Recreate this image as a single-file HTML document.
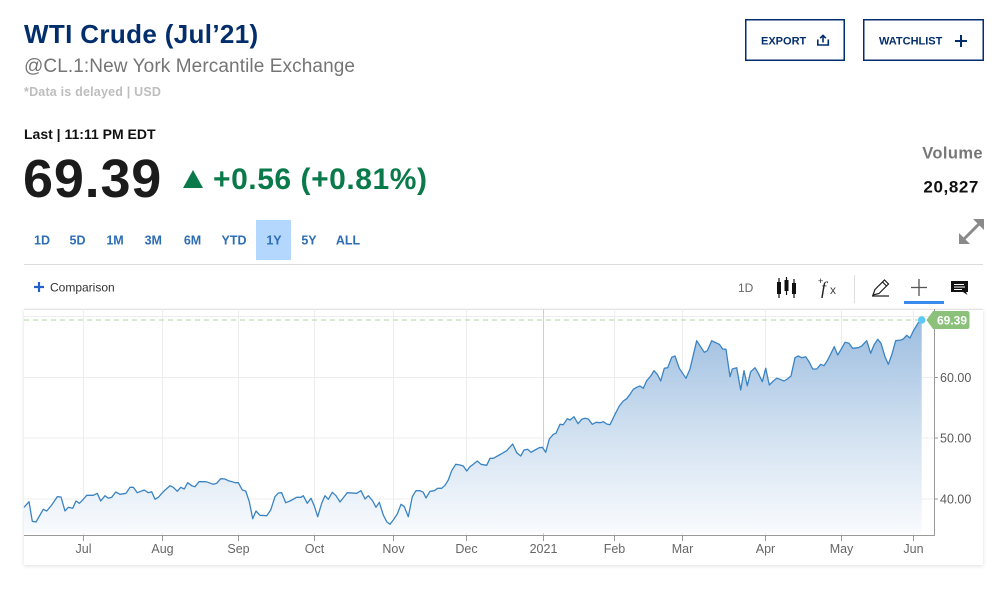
<!DOCTYPE html>
<html>
<head>
<meta charset="utf-8">
<style>
  html,body{margin:0;padding:0;background:#fff;}
  body{width:996px;height:594px;overflow:hidden;position:relative;font-family:"Liberation Sans",Arial,sans-serif;}
  svg{position:absolute;left:0;top:0;}
  .card{position:absolute;left:24px;top:309px;width:959px;height:256px;background:#fff;box-shadow:0 1px 4px rgba(0,0,0,0.13);}
</style>
</head>
<body>
<div class="card"></div>
<svg width="996" height="594" viewBox="0 0 996 594" xmlns="http://www.w3.org/2000/svg" font-family="Liberation Sans, Arial, sans-serif">
  <defs>
    <linearGradient id="fg" gradientUnits="userSpaceOnUse" x1="0" y1="320" x2="0" y2="533">
      <stop offset="0" stop-color="#9cbde0"/>
      <stop offset="0.55" stop-color="#d3e2f1"/>
      <stop offset="1" stop-color="#f9fbfe"/>
    </linearGradient>
  </defs>

  <!-- Header -->
  <text x="24" y="43" font-size="26" font-weight="bold" fill="#032e6c" letter-spacing="0.35">WTI Crude (Jul’21)</text>
  <text x="24" y="72" font-size="19" fill="#757575" letter-spacing="0.1">@CL.1:New York Mercantile Exchange</text>
  <text x="24" y="96" font-size="12.5" font-weight="bold" fill="#bdbdbd" letter-spacing="0.2">*Data is delayed | USD</text>
  <text x="24" y="139" font-size="14" font-weight="bold" fill="#111">Last | 11:11 PM EDT</text>
  <text x="23" y="197" font-size="54" font-weight="bold" fill="#1b1b1b" letter-spacing="0.8">69.39</text>
  <polygon points="183,188 203,188 193,170" fill="#0a7a4b"/>
  <text x="213" y="189" font-size="30" font-weight="bold" fill="#0a7a4b" letter-spacing="0.55">+0.56 (+0.81%)</text>

  <!-- Buttons -->
  <rect x="745.75" y="19.75" width="98.5" height="40.5" fill="none" stroke="#032e6c" stroke-width="1.5"/>
  <text x="761" y="44.3" font-size="11" font-weight="bold" fill="#032e6c">EXPORT</text>
  <g fill="none" stroke="#032e6c" stroke-width="1.6">
    <path d="M817.8,39.5 V45 H828.3 V39.5"/>
    <path d="M823,42.5 V35.5"/>
    <path d="M820.2,38.2 L823,35.4 L825.8,38.2"/>
  </g>
  <rect x="863.75" y="19.75" width="119.5" height="40.5" fill="none" stroke="#032e6c" stroke-width="1.5"/>
  <text x="879" y="44.3" font-size="11" font-weight="bold" fill="#032e6c">WATCHLIST</text>
  <g stroke="#032e6c" stroke-width="2">
    <line x1="955" y1="41" x2="967" y2="41"/>
    <line x1="961" y1="35" x2="961" y2="47"/>
  </g>

  <!-- Volume -->
  <text x="983" y="158.5" font-size="16.5" font-weight="bold" fill="#777" text-anchor="end" letter-spacing="0.4">Volume</text>
  <text x="979" y="192.5" font-size="17" font-weight="bold" fill="#111" text-anchor="end" letter-spacing="0.6">20,827</text>

  <!-- Expand icon -->
  <g fill="#8a8a8a" stroke="#8a8a8a">
    <line x1="964" y1="239" x2="979" y2="224" stroke-width="3"/>
    <polygon points="984,219 984,230 973,219" stroke="none"/>
    <polygon points="959,244 959,233 970,244" stroke="none"/>
  </g>

  <!-- Range buttons -->
  <rect x="256" y="220" width="35" height="40" fill="#b4d7fd"/>
  <g font-size="12.5" font-weight="bold" fill="#2d6db5" text-anchor="middle">
    <text x="42" y="244.5">1D</text>
    <text x="77.5" y="244.5">5D</text>
    <text x="115" y="244.5">1M</text>
    <text x="153.3" y="244.5">3M</text>
    <text x="192.5" y="244.5">6M</text>
    <text x="234" y="244.5">YTD</text>
    <text x="274" y="244.5">1Y</text>
    <text x="309" y="244.5">5Y</text>
    <text x="348" y="244.5">ALL</text>
  </g>
  <line x1="24" y1="264.5" x2="983" y2="264.5" stroke="#dcdcdc" stroke-width="1"/>

  <!-- Toolbar -->
  <g stroke="#2360c8" stroke-width="2.2">
    <line x1="34" y1="287" x2="44" y2="287"/>
    <line x1="39" y1="282" x2="39" y2="292"/>
  </g>
  <text x="50" y="291.3" font-size="12" fill="#333">Comparison</text>
  <text x="738" y="292" font-size="12" fill="#666">1D</text>
  <!-- candles -->
  <g fill="#111" stroke="#111" stroke-width="1.2">
    <line x1="779" y1="278" x2="779" y2="298"/>
    <rect x="777" y="282" width="4" height="12" stroke="none"/>
    <line x1="786.5" y1="277" x2="786.5" y2="295"/>
    <rect x="784.5" y="280" width="4" height="11" stroke="none"/>
    <line x1="794" y1="279" x2="794" y2="298"/>
    <rect x="792" y="283" width="4" height="11" stroke="none"/>
  </g>
  <!-- fx -->
  <text x="818" y="284" font-size="9" fill="#222">+</text>
  <text x="821" y="294" font-size="18" font-style="italic" font-family="Liberation Serif, serif" fill="#222">f</text>
  <text x="830" y="294" font-size="12" fill="#444">x</text>
  <line x1="854.5" y1="275" x2="854.5" y2="303" stroke="#ddd" stroke-width="1"/>
  <!-- pencil -->
  <g fill="none" stroke="#222" stroke-width="1.2">
    <path d="M873,295 L875,289.5 L884.5,280 L888.5,284 L879,293.5 Z"/>
    <line x1="882.5" y1="282" x2="886.5" y2="286"/>
    <line x1="872" y1="296" x2="889" y2="296"/>
  </g>
  <!-- crosshair -->
  <g stroke="#555" stroke-width="1.3">
    <line x1="911" y1="287.5" x2="927" y2="287.5"/>
    <line x1="919" y1="279" x2="919" y2="296"/>
  </g>
  <rect x="904" y="301" width="40" height="3" fill="#3a8aec"/>
  <!-- comment -->
  <path d="M951,281 H968 V292 H966 L967.5,295 L963,292 H951 Z" fill="#111"/>
  <g stroke="#fff" stroke-width="1">
    <line x1="954" y1="284.5" x2="964" y2="284.5"/>
    <line x1="954" y1="287" x2="965" y2="287"/>
    <line x1="954" y1="289.5" x2="962" y2="289.5"/>
  </g>

  <!-- Chart grid -->
  <line x1="24" y1="309.5" x2="983" y2="309.5" stroke="#e2e2e2"/>
  <g stroke="#ededed" stroke-width="1">
    <line x1="24" y1="316.5" x2="934" y2="316.5"/>
    <line x1="24" y1="377.5" x2="934" y2="377.5"/>
    <line x1="24" y1="438" x2="934" y2="438"/>
    <line x1="24" y1="499" x2="934" y2="499"/>
    <line x1="83.5" y1="309" x2="83.5" y2="535"/>
    <line x1="162.5" y1="309" x2="162.5" y2="535"/>
    <line x1="238.5" y1="309" x2="238.5" y2="535"/>
    <line x1="314.5" y1="309" x2="314.5" y2="535"/>
    <line x1="393.5" y1="309" x2="393.5" y2="535"/>
    <line x1="466.5" y1="309" x2="466.5" y2="535"/>
    <line x1="614.5" y1="309" x2="614.5" y2="535"/>
    <line x1="682.5" y1="309" x2="682.5" y2="535"/>
    <line x1="765.5" y1="309" x2="765.5" y2="535"/>
    <line x1="841.5" y1="309" x2="841.5" y2="535"/>
    <line x1="913.5" y1="309" x2="913.5" y2="535"/>
  </g>
  <line x1="543.5" y1="309" x2="543.5" y2="535" stroke="#cfcfcf"/>

  <!-- Area + line -->
  <path fill="url(#fg)" d="M24,507.3 L29,501.7 32.3,521.3 36,522 40,515 43.3,509.3 46.7,511 51.7,505 57.3,496.7 61,497 65,511 68.3,507.3 72.7,508.3 76,501 79.3,503.3 82.7,500 86.7,495.3 93.3,495.3 97.3,493.3 100.7,501 105,495.7 108.3,498.3 111.7,497.3 115.7,492 120,494.3 126,493.3 130,487.3 133.3,487.3 137.3,492.7 144.3,490 148.3,492.7 151.7,491.7 155,499.3 158.3,497.3 164.3,490.7 170,485.7 173.3,487.3 177.3,491.3 180.7,487.3 184.3,489 187.7,482.7 191.7,485.7 195,486.7 199,481.7 206,481.7 213.3,484.3 216.7,483.3 220.7,478.7 225,479 228.3,480.7 232.3,481.7 235,482.7 238.3,482.7 242.3,490 245.7,491 249.3,501.7 252.7,518.7 256,511 260,515.3 266.7,515.7 270.7,510 275,496.7 278.3,493 281.7,492.7 285.7,502.7 290,501 296.7,497.3 301,497.3 303.3,495.7 307.3,503.3 311,498.3 314.3,506 317.7,516.7 321.7,503.3 325,495.7 328.3,499.3 332.3,492.3 336,495.7 340,502 347.3,492.7 356.7,493.3 361,490.7 365,499 368.3,495.7 372.7,501 376,507.3 379.3,502.3 383.3,515 386.7,521.7 390,524.3 393.3,520 397.3,514 401,504.3 404.3,506.7 408.3,516.7 412.3,496.7 416,490.7 420,490.7 423.3,492.3 426,498 430,491.3 434.3,490.7 437.7,488.3 441.7,488.3 445,485.3 448.3,480 451.7,470.7 455.7,464.3 460,465 463.3,466 466.7,471 470,466.7 473.3,464.3 477.3,461 481,464.3 486.7,465.3 490,458.3 493.3,458.3 499.3,455 503.3,452.7 506.7,450.7 512.7,444 516.7,452.7 520.7,456 524,450 527.7,449.3 531,452.3 535,450 539.3,447.7 542.3,447.3 545.7,452.3 549.3,439 553.3,434.3 556,433.3 560,424.3 563.3,424.7 567.3,418.7 570,420 574,416.7 578,423.7 581.7,419.3 585,418.3 588.3,419 592.3,424.3 596,422.3 600,422.7 603.3,421.7 606.7,424 610,424.7 615,414.3 619.3,406 623.3,401 626.7,398.7 630,394.3 633.3,389.3 636.7,387.3 640,386 643.3,388.3 646.7,380.7 650.7,376 654,370.7 657.3,374.3 660.7,381 664.3,368.3 667.7,367.7 671.7,357.3 675,356 679.3,368.3 686,378.3 690,369 696.7,340.7 704.3,352.3 707.3,350.7 711.7,340.7 715,342.3 719.3,344.3 722.7,349 726,349.3 730,376.7 732.3,369 736.7,367.7 740.7,390 744,370.7 747.3,385.7 750.7,371.7 755,367.7 758.3,373.3 762.3,381.7 765.7,368.3 769.3,385 773.3,381 776.7,378.3 780,379.3 784,381 787.3,379 791,376 795,357.7 798.3,356 801.7,357.7 805.7,356.7 809,361.7 812.7,369 816.7,369 820.7,364.3 824,365.7 827.7,360 834.3,346.7 837.7,355 841.7,348.3 845,342.3 849,343.3 852.7,348.3 858.3,347.7 861.7,346 866.7,340.7 870.7,353.3 874,345 877.7,339.3 881,343.3 885,356.7 888.3,364.3 891.7,355 895.7,340.7 901,340 903.3,339 906.7,335.3 910,338 913.3,331 918.3,322.7 921.7,320 L921.7,533 L24,533 Z"/>
  <path fill="none" stroke="#3a84c3" stroke-width="1.3" stroke-linejoin="round" d="M24,507.3 L29,501.7 32.3,521.3 36,522 40,515 43.3,509.3 46.7,511 51.7,505 57.3,496.7 61,497 65,511 68.3,507.3 72.7,508.3 76,501 79.3,503.3 82.7,500 86.7,495.3 93.3,495.3 97.3,493.3 100.7,501 105,495.7 108.3,498.3 111.7,497.3 115.7,492 120,494.3 126,493.3 130,487.3 133.3,487.3 137.3,492.7 144.3,490 148.3,492.7 151.7,491.7 155,499.3 158.3,497.3 164.3,490.7 170,485.7 173.3,487.3 177.3,491.3 180.7,487.3 184.3,489 187.7,482.7 191.7,485.7 195,486.7 199,481.7 206,481.7 213.3,484.3 216.7,483.3 220.7,478.7 225,479 228.3,480.7 232.3,481.7 235,482.7 238.3,482.7 242.3,490 245.7,491 249.3,501.7 252.7,518.7 256,511 260,515.3 266.7,515.7 270.7,510 275,496.7 278.3,493 281.7,492.7 285.7,502.7 290,501 296.7,497.3 301,497.3 303.3,495.7 307.3,503.3 311,498.3 314.3,506 317.7,516.7 321.7,503.3 325,495.7 328.3,499.3 332.3,492.3 336,495.7 340,502 347.3,492.7 356.7,493.3 361,490.7 365,499 368.3,495.7 372.7,501 376,507.3 379.3,502.3 383.3,515 386.7,521.7 390,524.3 393.3,520 397.3,514 401,504.3 404.3,506.7 408.3,516.7 412.3,496.7 416,490.7 420,490.7 423.3,492.3 426,498 430,491.3 434.3,490.7 437.7,488.3 441.7,488.3 445,485.3 448.3,480 451.7,470.7 455.7,464.3 460,465 463.3,466 466.7,471 470,466.7 473.3,464.3 477.3,461 481,464.3 486.7,465.3 490,458.3 493.3,458.3 499.3,455 503.3,452.7 506.7,450.7 512.7,444 516.7,452.7 520.7,456 524,450 527.7,449.3 531,452.3 535,450 539.3,447.7 542.3,447.3 545.7,452.3 549.3,439 553.3,434.3 556,433.3 560,424.3 563.3,424.7 567.3,418.7 570,420 574,416.7 578,423.7 581.7,419.3 585,418.3 588.3,419 592.3,424.3 596,422.3 600,422.7 603.3,421.7 606.7,424 610,424.7 615,414.3 619.3,406 623.3,401 626.7,398.7 630,394.3 633.3,389.3 636.7,387.3 640,386 643.3,388.3 646.7,380.7 650.7,376 654,370.7 657.3,374.3 660.7,381 664.3,368.3 667.7,367.7 671.7,357.3 675,356 679.3,368.3 686,378.3 690,369 696.7,340.7 704.3,352.3 707.3,350.7 711.7,340.7 715,342.3 719.3,344.3 722.7,349 726,349.3 730,376.7 732.3,369 736.7,367.7 740.7,390 744,370.7 747.3,385.7 750.7,371.7 755,367.7 758.3,373.3 762.3,381.7 765.7,368.3 769.3,385 773.3,381 776.7,378.3 780,379.3 784,381 787.3,379 791,376 795,357.7 798.3,356 801.7,357.7 805.7,356.7 809,361.7 812.7,369 816.7,369 820.7,364.3 824,365.7 827.7,360 834.3,346.7 837.7,355 841.7,348.3 845,342.3 849,343.3 852.7,348.3 858.3,347.7 861.7,346 866.7,340.7 870.7,353.3 874,345 877.7,339.3 881,343.3 885,356.7 888.3,364.3 891.7,355 895.7,340.7 901,340 903.3,339 906.7,335.3 910,338 913.3,331 918.3,322.7 921.7,320"/>

  <!-- Dashed last-price line -->
  <line x1="24" y1="320" x2="921" y2="320" stroke="#c9e4c1" stroke-width="1.5" stroke-dasharray="5,4"/>

  <!-- Axes -->
  <line x1="934.5" y1="309" x2="934.5" y2="535.5" stroke="#9a9a9a" stroke-width="1"/>
  <line x1="24" y1="535.5" x2="935" y2="535.5" stroke="#9a9a9a" stroke-width="1"/>
  <g stroke="#9a9a9a" stroke-width="1">
    <line x1="934" y1="377.5" x2="938" y2="377.5"/>
    <line x1="934" y1="438" x2="938" y2="438"/>
    <line x1="934" y1="499" x2="938" y2="499"/>
    <line x1="83.5" y1="535" x2="83.5" y2="541"/>
    <line x1="162.5" y1="535" x2="162.5" y2="541"/>
    <line x1="238.5" y1="535" x2="238.5" y2="541"/>
    <line x1="314.5" y1="535" x2="314.5" y2="541"/>
    <line x1="393.5" y1="535" x2="393.5" y2="541"/>
    <line x1="466.5" y1="535" x2="466.5" y2="541"/>
    <line x1="543.5" y1="535" x2="543.5" y2="541"/>
    <line x1="614.5" y1="535" x2="614.5" y2="541"/>
    <line x1="682.5" y1="535" x2="682.5" y2="541"/>
    <line x1="765.5" y1="535" x2="765.5" y2="541"/>
    <line x1="841.5" y1="535" x2="841.5" y2="541"/>
    <line x1="913.5" y1="535" x2="913.5" y2="541"/>
  </g>
  <g font-size="12.5" fill="#5a5a5a">
    <text x="940" y="382">60.00</text>
    <text x="940" y="442.5">50.00</text>
    <text x="940" y="503.5">40.00</text>
  </g>
  <g font-size="12.5" fill="#666" text-anchor="middle">
    <text x="83.5" y="553">Jul</text>
    <text x="162.5" y="553">Aug</text>
    <text x="238.5" y="553">Sep</text>
    <text x="314.5" y="553">Oct</text>
    <text x="393.5" y="553">Nov</text>
    <text x="466.5" y="553">Dec</text>
    <text x="543.5" y="553">2021</text>
    <text x="614.5" y="553">Feb</text>
    <text x="682.5" y="553">Mar</text>
    <text x="765.5" y="553">Apr</text>
    <text x="841.5" y="553">May</text>
    <text x="913.5" y="553">Jun</text>
  </g>

  <!-- Price tag -->
  <path d="M926.5,320 L933,311 H967 Q969.5,311 969.5,313.5 V326.5 Q969.5,329 967,329 H933 Z" fill="#8bc17a"/>
  <text x="952" y="324.5" font-size="12" font-weight="bold" fill="#fff" text-anchor="middle">69.39</text>
  <circle cx="921.7" cy="320" r="3.8" fill="#5cc8f6"/>
</svg>
</body>
</html>
